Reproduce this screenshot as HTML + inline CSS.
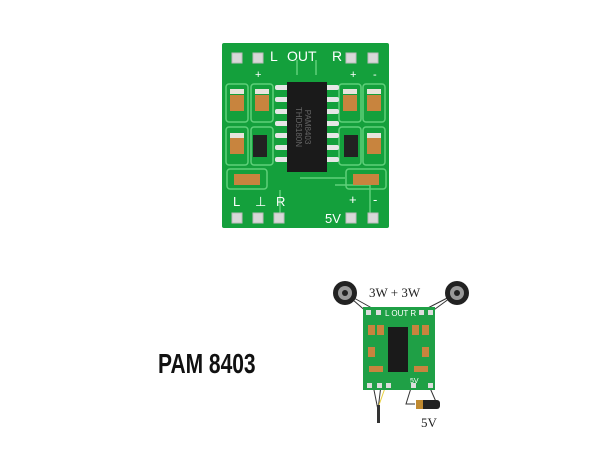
<!DOCTYPE html>
<html><head><style>
html,body{margin:0;padding:0;background:#fff;width:600px;height:450px;overflow:hidden}
</style></head><body>
<svg width="600" height="450" viewBox="0 0 600 450" xmlns="http://www.w3.org/2000/svg">
<rect width="600" height="450" fill="#fff"/>
<!-- top board -->
<rect x="222" y="43" width="167" height="185" fill="#14a03c" rx="2"/>
<g fill="none" stroke="#5fd07a" stroke-width="1.5">
<rect x="226" y="84" width="22" height="38" rx="3"/><rect x="251" y="84" width="22" height="38" rx="3"/>
<rect x="339" y="84" width="22" height="38" rx="3"/><rect x="363" y="84" width="22" height="38" rx="3"/>
<rect x="226" y="127" width="22" height="38" rx="3"/><rect x="251" y="127" width="22" height="38" rx="3"/>
<rect x="339" y="127" width="22" height="38" rx="3"/><rect x="363" y="127" width="22" height="38" rx="3"/>
<rect x="227" y="169" width="40" height="20" rx="3"/><rect x="346" y="169" width="40" height="20" rx="3"/>
<path d="M297 60 V75 M316 60 V75 M280 190 V215 M300 178 H345 M335 185 H370 V215"/>
</g>
<!-- components -->
<g fill="#c8843e">
<rect x="230" y="95" width="14" height="16"/><rect x="255" y="95" width="14" height="16"/>
<rect x="343" y="95" width="14" height="16"/><rect x="367" y="95" width="14" height="16"/>
<rect x="230" y="138" width="14" height="16"/><rect x="367" y="138" width="14" height="16"/>
<rect x="234" y="174" width="26" height="11"/><rect x="353" y="174" width="26" height="11"/>
</g>
<g fill="#e8e4dc"><rect x="230" y="89" width="14" height="5"/><rect x="255" y="89" width="14" height="5"/><rect x="343" y="89" width="14" height="5"/><rect x="367" y="89" width="14" height="5"/>
<rect x="230" y="133" width="14" height="5"/><rect x="367" y="133" width="14" height="5"/></g>
<rect x="253" y="135" width="14" height="22" fill="#222"/><rect x="344" y="135" width="14" height="22" fill="#222"/>
<!-- chip pins -->
<g fill="#e6e6e6">
<rect x="275" y="85" width="14" height="5" rx="2"/><rect x="275" y="97" width="14" height="5" rx="2"/><rect x="275" y="109" width="14" height="5" rx="2"/><rect x="275" y="121" width="14" height="5" rx="2"/><rect x="275" y="133" width="14" height="5" rx="2"/><rect x="275" y="145" width="14" height="5" rx="2"/><rect x="275" y="157" width="14" height="5" rx="2"/>
<rect x="325" y="85" width="14" height="5" rx="2"/><rect x="325" y="97" width="14" height="5" rx="2"/><rect x="325" y="109" width="14" height="5" rx="2"/><rect x="325" y="121" width="14" height="5" rx="2"/><rect x="325" y="133" width="14" height="5" rx="2"/><rect x="325" y="145" width="14" height="5" rx="2"/><rect x="325" y="157" width="14" height="5" rx="2"/>
</g>
<rect x="287" y="82" width="40" height="90" fill="#1a1a1a"/>
<text x="0" y="0" transform="translate(305,127) rotate(90)" font-family="Liberation Sans,sans-serif" font-size="8" fill="#666" text-anchor="middle">PAM8403</text>
<text x="0" y="0" transform="translate(296,127) rotate(90)" font-family="Liberation Sans,sans-serif" font-size="8" fill="#666" text-anchor="middle">THD5180N</text>
<!-- pads -->
<g fill="#d8d8d8" stroke="#bbb">
<rect x="232" y="53" width="10" height="10"/><rect x="253" y="53" width="10" height="10"/><rect x="346" y="53" width="10" height="10"/><rect x="368" y="53" width="10" height="10"/>
<rect x="232" y="213" width="10" height="10"/><rect x="253" y="213" width="10" height="10"/><rect x="274" y="213" width="10" height="10"/><rect x="346" y="213" width="10" height="10"/><rect x="368" y="213" width="10" height="10"/>
</g>
<g font-family="Liberation Sans,sans-serif" font-size="14" fill="#fff">
<text x="270" y="61">L</text><text x="287" y="61">OUT</text><text x="332" y="61">R</text>
<text x="255" y="78" font-size="11">+</text><text x="350" y="78" font-size="11">+</text><text x="373" y="78" font-size="11">-</text>
<text x="233" y="206" font-size="13">L</text><text x="255" y="206" font-size="13">⊥</text><text x="276" y="206" font-size="13">R</text>
<text x="349" y="204" font-size="13">+</text><text x="373" y="204" font-size="13">-</text>
<text x="325" y="223" font-size="13">5V</text>
</g>
<!-- PAM 8403 label -->
<text x="0" y="0" transform="translate(158,373) scale(0.75,1)" font-family="Liberation Sans,sans-serif" font-weight="bold" font-size="28" fill="#111">PAM 8403</text>
<!-- bottom diagram -->
<g stroke="#333" stroke-width="1" fill="none">
<path d="M345 293 L368 313 M345 293 L379 312 M457 293 L420 312 M457 293 L431 312"/>
<path d="M373 385 L378 410 M381 385 L378 410"/>
<path d="M411 388 L406 404 L415 404 M430 388 L437 404 L432 404"/>
</g>
<path d="M385 388 L379 405" stroke="#e8d040" fill="none"/>
<circle cx="345" cy="293" r="12" fill="#222"/><circle cx="345" cy="293" r="7" fill="#999"/><circle cx="345" cy="293" r="3" fill="#222"/>
<circle cx="457" cy="293" r="12" fill="#222"/><circle cx="457" cy="293" r="7" fill="#999"/><circle cx="457" cy="293" r="3" fill="#222"/>
<text x="369" y="297" font-family="Liberation Serif,serif" font-size="13" fill="#222">3W + 3W</text>
<rect x="363" y="307" width="72" height="83" fill="#1fa046"/>
<rect x="388" y="327" width="20" height="45" fill="#1a1a1a"/>
<g fill="#c8843e"><rect x="368" y="325" width="7" height="10"/><rect x="377" y="325" width="7" height="10"/><rect x="412" y="325" width="7" height="10"/><rect x="422" y="325" width="7" height="10"/><rect x="368" y="347" width="7" height="10"/><rect x="422" y="347" width="7" height="10"/><rect x="369" y="366" width="14" height="6"/><rect x="414" y="366" width="14" height="6"/></g>
<g fill="#ddd"><rect x="366" y="310" width="5" height="5"/><rect x="376" y="310" width="5" height="5"/><rect x="419" y="310" width="5" height="5"/><rect x="428" y="310" width="5" height="5"/><rect x="367" y="383" width="5" height="5"/><rect x="377" y="383" width="5" height="5"/><rect x="386" y="383" width="5" height="5"/><rect x="411" y="383" width="5" height="5"/><rect x="428" y="383" width="5" height="5"/></g>
<text x="385" y="316" font-family="Liberation Sans,sans-serif" font-size="8" fill="#fff">L OUT R</text>
<text x="410" y="383" font-family="Liberation Sans,sans-serif" font-size="7" fill="#fff">5V</text>
<rect x="377" y="405" width="3" height="18" fill="#333"/>
<rect x="416" y="400" width="24" height="9" rx="3" fill="#222"/><rect x="416" y="400" width="7" height="9" fill="#c08a30"/>
<text x="421" y="427" font-family="Liberation Serif,serif" font-size="13" fill="#222">5V</text>
</svg>
</body></html>
